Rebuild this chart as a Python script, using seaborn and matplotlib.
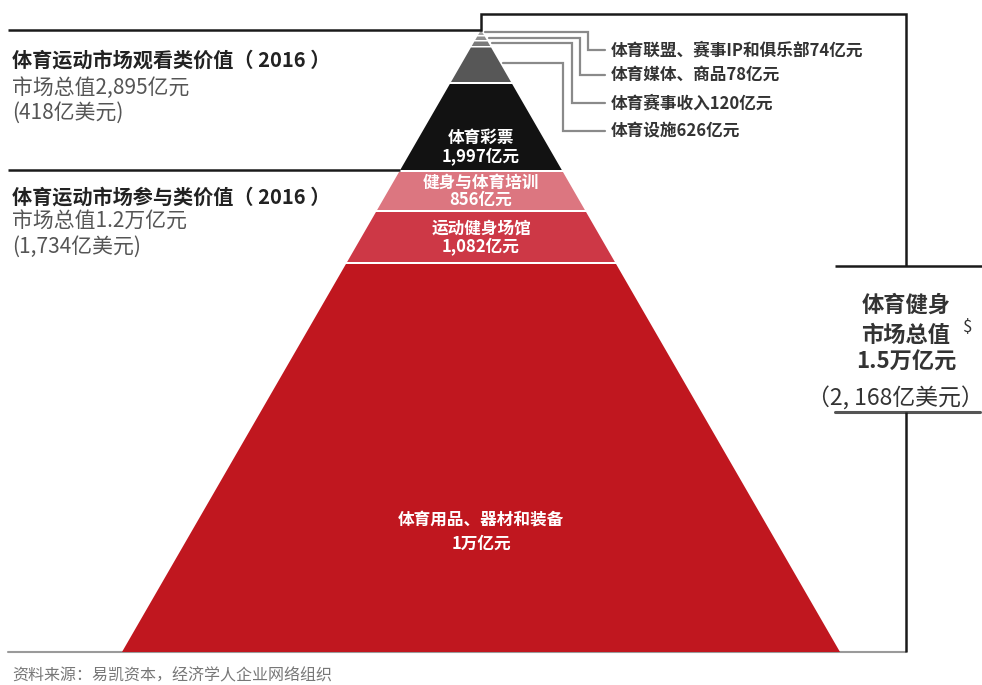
import matplotlib
matplotlib.use("Agg")
import matplotlib.pyplot as plt
import seaborn as sns

sns.set_theme(style="white")
plt.rcParams["font.family"] = ["Noto Sans CJK SC", "DejaVu Sans"]

# ---------------------------------------------------------------------------
# data
# ---------------------------------------------------------------------------
layer_names = ["体育联盟、赛事IP和俱乐部", "体育媒体、商品", "体育赛事收入", "体育设施",
               "体育彩票", "健身与体育培训", "运动健身场馆", "体育用品、器材和装备"]
layer_values = ["74亿元", "78亿元", "120亿元", "626亿元",
                "1,997亿元", "856亿元", "1,082亿元", "1万亿元"]
layer_colors = ["#a3a3a3", "#8f8f8f", "#7a7a7a", "#575757",
                "#121212", "#dc7680", "#cd3846", "#c0171f"]

view_title = "体育运动市场观看类价值（ 2016 ）"
view_total = "市场总值2,895亿元"
view_usd = "(418亿美元)"
part_title = "体育运动市场参与类价值（ 2016 ）"
part_total = "市场总值1.2万亿元"
part_usd = "(1,734亿美元)"
all_lines = ["体育健身", "市场总值", "1.5万亿元", "（2, 168亿美元）"]
source = "资料来源：易凯资本，经济学人企业网络组织"

# ---------------------------------------------------------------------------
# layout (pixel space)
# ---------------------------------------------------------------------------
W, H = 982, 685
APEX_X, APEX_Y = 481, 30
SLOPE = 359 / (652 - 30)
layer_top = [30, 36.5, 41.5, 47.5, 84, 172, 212, 264]
layer_bot = [35, 40, 46, 82, 170, 210, 262, 652]
inner_label_y = [None, None, None, None, (138, 157), (183, 200), (228, 247), (520, 544)]
callout_y = [32, 38, 43, 63]
callout_corner = [588, 580, 572, 563]
callout_label_y = [50, 75, 103, 131]


def half(y):
    return SLOPE * (y - APEX_Y)


fig = plt.figure(figsize=(W / 100, H / 100), dpi=100)
ax = fig.add_axes([0, 0, 1, 1])
ax.set_xlim(0, W)
ax.set_ylim(H, 0)
ax.axis("off")

# pyramid layers
for i, name in enumerate(layer_names):
    t, b = layer_top[i], layer_bot[i]
    xs = [APEX_X - half(t), APEX_X + half(t), APEX_X + half(b), APEX_X - half(b)]
    ys = [t, t, b, b]
    ax.fill(xs, ys, color=layer_colors[i], lw=0, zorder=2)
    if inner_label_y[i] is not None:
        y1, y2 = inner_label_y[i]
        ax.text(APEX_X, y1, name, color="white", fontsize=12, fontweight="bold",
                ha="center", va="center", zorder=3)
        ax.text(APEX_X, y2, layer_values[i], color="white", fontsize=12,
                fontweight="bold", ha="center", va="center", zorder=3)

# callouts for the thin top layers
for i in range(4):
    y0 = callout_y[i]
    xc = callout_corner[i]
    yl = callout_label_y[i]
    ax.plot([APEX_X + half(y0) + 3, xc, xc, 605], [y0, y0, yl, yl],
            color="#8a8a8a", lw=1.6, zorder=1, solid_joinstyle="miter")
    ax.text(611, yl, layer_names[i] + layer_values[i], fontsize=12,
            fontweight="bold", color="#333333", ha="left", va="center")

# bracket lines
k = dict(color="#1a1a1a", lw=1.8, solid_joinstyle="miter", solid_capstyle="butt")
ax.plot([8, APEX_X, APEX_X, 906, 906], [30, 30, 14, 14, 266], **k)
ax.plot([835, 982], [266, 266], **k)
ax.plot([8, 400], [170, 170], **k)
ax.plot([835, 980], [412, 412], color="#555555", lw=2.2)
ax.plot([906, 906], [412, 652], **k)
ax.plot([8, 906], [652, 652], color="#9a9a9a", lw=1.5, zorder=1)

# left texts
ax.text(12, 60, view_title, fontsize=14.5, fontweight="bold", color="#222222", va="center")
ax.text(12, 88, view_total, fontsize=15, color="#555555", va="center")
ax.text(12, 113, view_usd, fontsize=15, color="#555555", va="center")
ax.text(12, 197, part_title, fontsize=14.5, fontweight="bold", color="#222222", va="center")
ax.text(12, 222, part_total, fontsize=15, color="#555555", va="center")
ax.text(12, 247, part_usd, fontsize=15, color="#555555", va="center")

# right summary
ax.text(906, 305, all_lines[0], fontsize=16, fontweight="bold", color="#333333",
        ha="center", va="center")
ax.text(906, 335, all_lines[1], fontsize=16, fontweight="bold", color="#333333",
        ha="center", va="center")
ax.text(968, 327, "$", fontsize=12, color="#333333", ha="center", va="center")
ax.text(895, 399, all_lines[3], fontsize=16.5, color="#333333",
        ha="center", va="center")
ax.text(906, 362, all_lines[2], fontsize=16, fontweight="bold", color="#333333",
        ha="center", va="center")

# source
ax.text(12, 676, source, fontsize=11.5, color="#777777", va="center")

fig.savefig("out.png", dpi=100)
